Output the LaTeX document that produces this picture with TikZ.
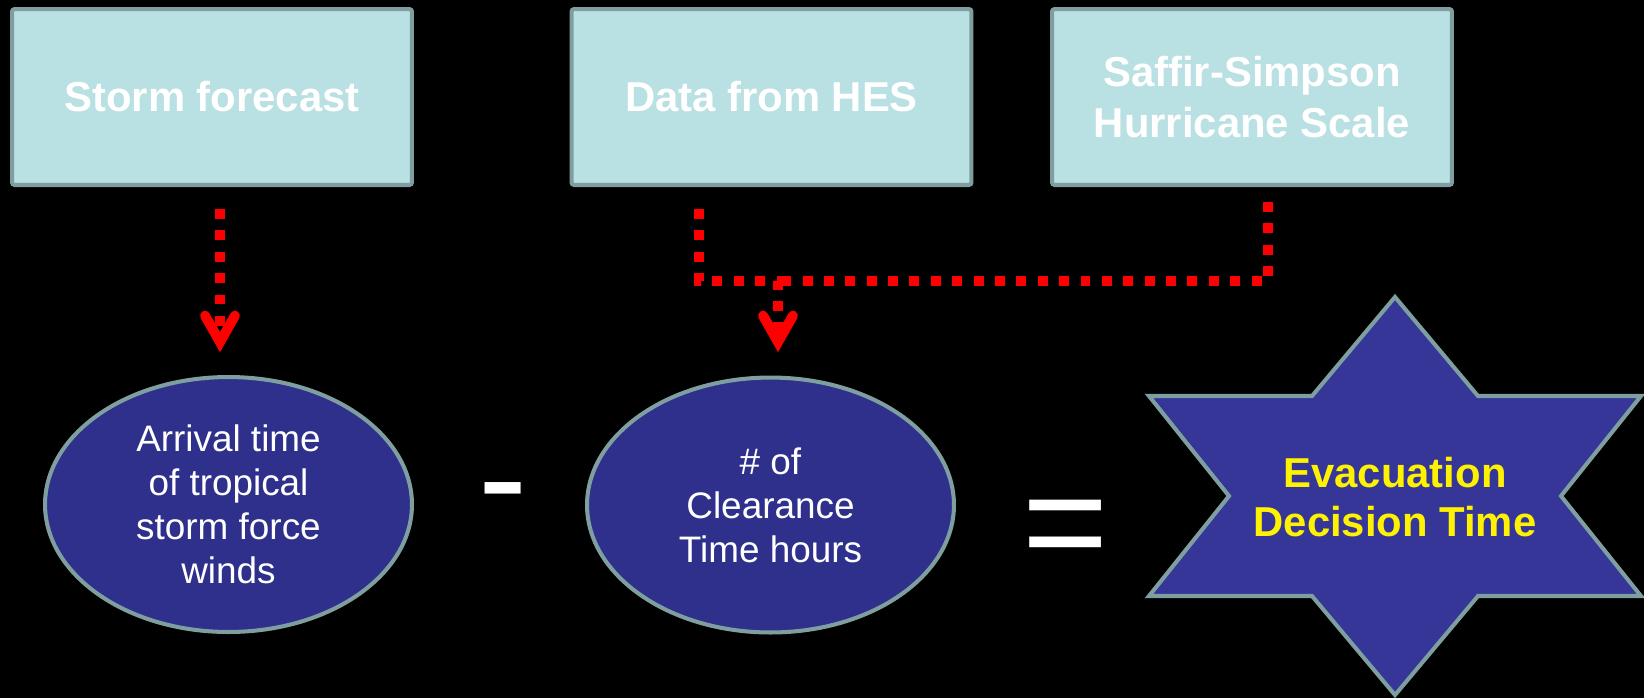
\documentclass[tikz,border=0pt]{standalone}
\usepackage{fontspec}
\setmainfont{Liberation Sans}
\usepackage{xcolor}
\usetikzlibrary{arrows.meta,positioning,shapes.geometric}
\definecolor{boxfill}{HTML}{B9E0E2}
\definecolor{edgegray}{HTML}{7F9EA0}
\definecolor{ovalblue}{HTML}{2E308C}
\definecolor{starblue}{HTML}{353698}
\tikzset{
  srcbox/.style={rectangle,draw=edgegray,fill=boxfill,line width=2.3pt,rounded corners=1.5pt,
    minimum width=8.0cm,minimum height=3.52cm,inner sep=0pt,align=center,text=white,
    font=\fontsize{23.8}{29.5}\selectfont\bfseries},
  calcnode/.style={ellipse,draw=edgegray,fill=ovalblue,line width=2.3pt,minimum width=7.34cm,
    minimum height=5.1cm,inner sep=0pt,align=center,text=white,font=\fontsize{21}{25}\selectfont},
  goalnode/.style={align=center,text=yellow,inner sep=0pt,font=\fontsize{23.8}{28.3}\selectfont\bfseries},
  starshape/.style={draw=edgegray,fill=starblue,line width=2.3pt,line join=miter},
  opnode/.style={text=white,inner sep=0pt,anchor=base,font=\fontsize{84}{84}\selectfont},
  flowedge/.style={red,line width=5.67pt,dash pattern=on 5.67pt off 6.5pt,
    -{Straight Barb[length=15pt,width=17pt,line cap=round,line join=miter]}},
}

\begin{document}
\begin{tikzpicture}[x=0.02cm,y=-0.02cm]
  \fill[black] (0,0) rectangle (1644,698);
  \useasboundingbox (0,0) rectangle (1644,698);
  % inputs
  \node[srcbox] (nSF) at (212,97) {Storm forecast};
  \node[srcbox] (nHES) at (771.5,97) {Data from HES};
  \node[srcbox] (nSSHS) at (1252,97) {Saffir-Simpson\\Hurricane Scale};
  % the sum
  \node[calcnode] (nArr) at (228.5,504.5) {Arrival time\\of tropical\\storm force\\winds};
  \node[calcnode] (nClr) at (770.5,505) {\# of\\Clearance\\Time hours};
  \node[opnode] (nMinus) at (503,527) {-};
  \node[opnode] (nEq) at (1065.5,572) {=};
  \draw[starshape,shift={(1395,496)}] (0,-199) -- (83,-100) -- (246,-100) -- (166,0)
    -- (246,100) -- (83,100) -- (0,199) -- (-83,100) -- (-246,100) -- (-166,0)
    -- (-246,-100) -- (-83,-100) -- cycle;
  \node[goalnode] (nEDT) at (1395,497) {Evacuation\\Decision Time};
  % dotted links
  \coordinate (cA) at (220,0);
  \coordinate (cB) at (699,0);
  \coordinate (cC) at (778,281);
  \coordinate (cD) at (1268,0);
  \draw[flowedge,shorten <=12.5pt,shorten >=13pt] (nSF.south -| cA) -- (nArr.north -| cA);
  \draw[flowedge,shorten <=12.5pt,shorten >=13.3pt] (nHES.south -| cB) |- (cC) -- (nClr.north -| cC);
  \draw[flowedge,-,shorten <=8.5pt] (nSSHS.south -| cD) |- (cC);
\end{tikzpicture}
\end{document}
